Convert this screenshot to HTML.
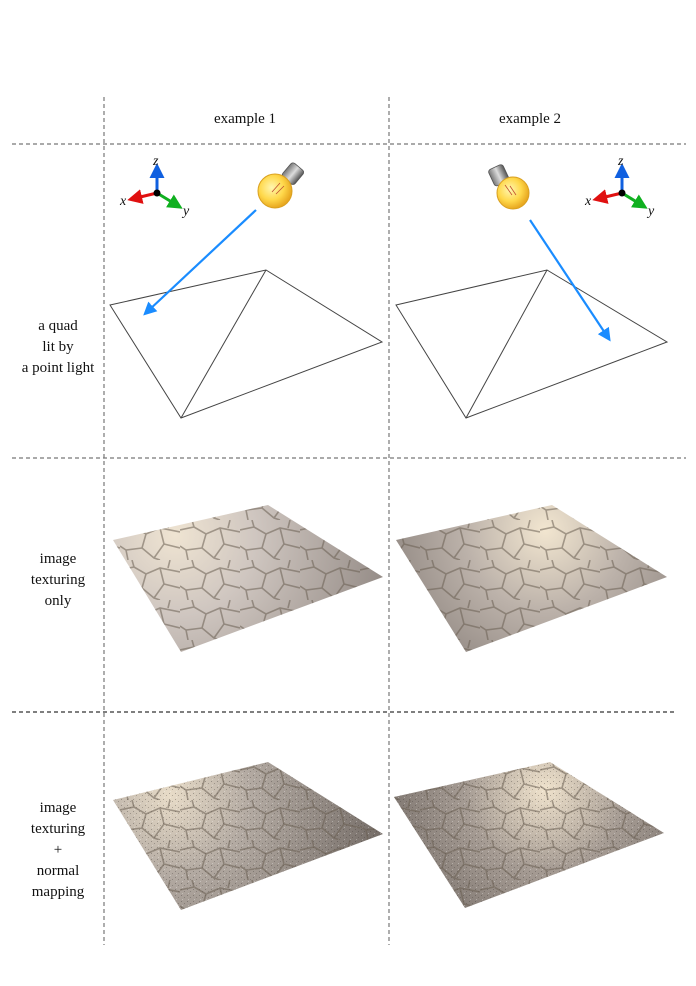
<!DOCTYPE html>
<html><head><meta charset="utf-8">
<style>
html,body{margin:0;padding:0;background:#fff;}
body{width:696px;height:981px;overflow:hidden;font-family:"Liberation Serif",serif;}
</style></head>
<body>
<svg width="696" height="981" viewBox="0 0 696 981" xmlns="http://www.w3.org/2000/svg">
<defs>
  <radialGradient id="lit1a" cx="175" cy="535" r="230" gradientUnits="userSpaceOnUse">
    <stop offset="0" stop-color="#efe4d2"/><stop offset="0.35" stop-color="#cfc6c0"/><stop offset="1" stop-color="#8e8580"/>
  </radialGradient>
  <radialGradient id="lit2a" cx="545" cy="530" r="230" gradientUnits="userSpaceOnUse">
    <stop offset="0" stop-color="#f2e6d0"/><stop offset="0.35" stop-color="#bcb2aa"/><stop offset="1" stop-color="#6f6763"/>
  </radialGradient>
  <radialGradient id="lit1b" cx="170" cy="795" r="230" gradientUnits="userSpaceOnUse">
    <stop offset="0" stop-color="#e8dcc8"/><stop offset="0.35" stop-color="#b3aaa2"/><stop offset="1" stop-color="#6f6762"/>
  </radialGradient>
  <radialGradient id="lit2b" cx="545" cy="790" r="230" gradientUnits="userSpaceOnUse">
    <stop offset="0" stop-color="#efe2cc"/><stop offset="0.35" stop-color="#a59b93"/><stop offset="1" stop-color="#5e5753"/>
  </radialGradient>
  <pattern id="cracks" width="60" height="40" patternUnits="userSpaceOnUse">
    <path d="M0 10 L14 7 L26 14 L40 8 L60 12 M14 7 L12 0 M26 14 L22 28 L34 38 L40 40 M22 28 L6 30 L0 26 M40 8 L44 24 L34 38 M44 24 L60 28 M6 30 L8 40 M50 0 L48 8"
      fill="none" stroke="#6a5f52" stroke-width="1.6" opacity="0.55"/>
  </pattern>
  <pattern id="noise" width="6" height="6" patternUnits="userSpaceOnUse">
    <rect x="1" y="1" width="1" height="1" fill="#3a3330" opacity="0.35"/>
    <rect x="4" y="3" width="1" height="1" fill="#3a3330" opacity="0.3"/>
    <rect x="2" y="5" width="1" height="1" fill="#fff" opacity="0.3"/>
  </pattern>
  <marker id="arrow" markerWidth="6" markerHeight="6" refX="3" refY="3" orient="auto" markerUnits="strokeWidth">
    <path d="M0,0 L6,3 L0,6 Z" fill="#1a8cff"/>
  </marker>
  <marker id="ar" markerWidth="5" markerHeight="5" refX="2" refY="2.5" orient="auto" markerUnits="strokeWidth"><path d="M0,0 L5,2.5 L0,5Z" fill="#e01010"/></marker>
  <marker id="ag" markerWidth="5" markerHeight="5" refX="2" refY="2.5" orient="auto" markerUnits="strokeWidth"><path d="M0,0 L5,2.5 L0,5Z" fill="#10b020"/></marker>
  <marker id="ab" markerWidth="5" markerHeight="5" refX="2" refY="2.5" orient="auto" markerUnits="strokeWidth"><path d="M0,0 L5,2.5 L0,5Z" fill="#1060e0"/></marker>
  <radialGradient id="bulb" cx="0.4" cy="0.4" r="0.6">
    <stop offset="0" stop-color="#fff6b0"/><stop offset="0.6" stop-color="#ffd84a"/><stop offset="1" stop-color="#e8a820"/>
  </radialGradient>
  <linearGradient id="screw" x1="0" y1="0" x2="1" y2="0">
    <stop offset="0" stop-color="#777"/><stop offset="0.5" stop-color="#ddd"/><stop offset="1" stop-color="#555"/>
  </linearGradient>
</defs>

<!-- grid -->
<g stroke="#777" stroke-width="1.2" stroke-dasharray="4,3" fill="none">
  <line x1="104" y1="97" x2="104" y2="945"/>
  <line x1="389" y1="97" x2="389" y2="945"/>
  <line x1="12" y1="144" x2="686" y2="144"/>
  <line x1="12" y1="458" x2="686" y2="458"/>
  <line x1="12" y1="712" x2="674" y2="712" stroke-width="1.6" stroke="#555"/>
</g>

<g font-size="15" fill="#111" text-anchor="middle">
  <text x="245" y="123">example 1</text>
  <text x="530" y="123">example 2</text>
  <text x="58"><tspan x="58" y="330">a quad</tspan><tspan x="58" y="351">lit by</tspan><tspan x="58" y="372">a point light</tspan></text>
  <text x="58"><tspan x="58" y="563">image</tspan><tspan x="58" y="584">texturing</tspan><tspan x="58" y="605">only</tspan></text>
  <text x="58"><tspan x="58" y="812">image</tspan><tspan x="58" y="833">texturing</tspan><tspan x="58" y="854">+</tspan><tspan x="58" y="875">normal</tspan><tspan x="58" y="896">mapping</tspan></text>
</g>

<!-- row 1 -->
<g fill="none" stroke="#444" stroke-width="1">
  <polygon points="110,305 266,270 382,342 181,418"/><line x1="266" y1="270" x2="181" y2="418"/>
</g>
<g fill="none" stroke="#444" stroke-width="1">
  <polygon points="396,305 547,270 667,342 466,418"/><line x1="547" y1="270" x2="466" y2="418"/>
</g>

<g>
  <line x1="157" y1="193" x2="157" y2="172" stroke="#1060e0" stroke-width="3" marker-end="url(#ab)"/>
  <line x1="157" y1="193" x2="136" y2="198" stroke="#e01010" stroke-width="3" marker-end="url(#ar)"/>
  <line x1="157" y1="193" x2="175" y2="204" stroke="#10b020" stroke-width="3" marker-end="url(#ag)"/>
  <circle cx="157" cy="193" r="3.5" fill="#000"/>
  <g font-style="italic" font-size="14" fill="#111"><text x="153" y="165">z</text><text x="120" y="205">x</text><text x="183" y="215">y</text></g>
</g>
<g>
  <line x1="622" y1="193" x2="622" y2="172" stroke="#1060e0" stroke-width="3" marker-end="url(#ab)"/>
  <line x1="622" y1="193" x2="601" y2="198" stroke="#e01010" stroke-width="3" marker-end="url(#ar)"/>
  <line x1="622" y1="193" x2="640" y2="204" stroke="#10b020" stroke-width="3" marker-end="url(#ag)"/>
  <circle cx="622" cy="193" r="3.5" fill="#000"/>
  <g font-style="italic" font-size="14" fill="#111"><text x="618" y="165">z</text><text x="585" y="205">x</text><text x="648" y="215">y</text></g>
</g>

<g>
  <g transform="translate(291,176) rotate(40)"><rect x="-8" y="-12" width="16" height="18" rx="3" fill="url(#screw)" stroke="#555" stroke-width="0.8"/></g>
  <circle cx="275" cy="191" r="17" fill="url(#bulb)" stroke="#d9a020" stroke-width="1"/>
  <path d="M272 192 L280 183 M276 194 L284 186" stroke="#c05030" stroke-width="0.8"/>
</g>
<g>
  <g transform="translate(500,178) rotate(-25)"><rect x="-8" y="-12" width="16" height="18" rx="3" fill="url(#screw)" stroke="#555" stroke-width="0.8"/></g>
  <circle cx="513" cy="193" r="16" fill="url(#bulb)" stroke="#d9a020" stroke-width="1"/>
  <path d="M512 195 L505 185 M516 195 L510 186" stroke="#c05030" stroke-width="0.8"/>
</g>

<line x1="256" y1="210" x2="148" y2="311" stroke="#1a8cff" stroke-width="2.2" marker-end="url(#arrow)"/>
<line x1="530" y1="220" x2="607" y2="336" stroke="#1a8cff" stroke-width="2.2" marker-end="url(#arrow)"/>

<!-- row 2 -->
<g>
  <polygon points="113,540 268,505 383,577 181,652" fill="url(#lit1a)"/>
  <polygon points="113,540 268,505 383,577 181,652" fill="url(#cracks)"/>
</g>
<g>
  <polygon points="396,540 552,505 667,577 466,652" fill="url(#lit2a)"/>
  <polygon points="396,540 552,505 667,577 466,652" fill="url(#cracks)"/>
</g>

<!-- row 3 -->
<g>
  <polygon points="113,800 268,762 383,834 181,910" fill="url(#lit1b)"/>
  <polygon points="113,800 268,762 383,834 181,910" fill="url(#noise)"/>
  <polygon points="113,800 268,762 383,834 181,910" fill="url(#cracks)"/>
</g>
<g>
  <polygon points="394,797 550,762 664,833 465,908" fill="url(#lit2b)"/>
  <polygon points="394,797 550,762 664,833 465,908" fill="url(#noise)"/>
  <polygon points="394,797 550,762 664,833 465,908" fill="url(#cracks)"/>
</g>
</svg>
</body></html>
